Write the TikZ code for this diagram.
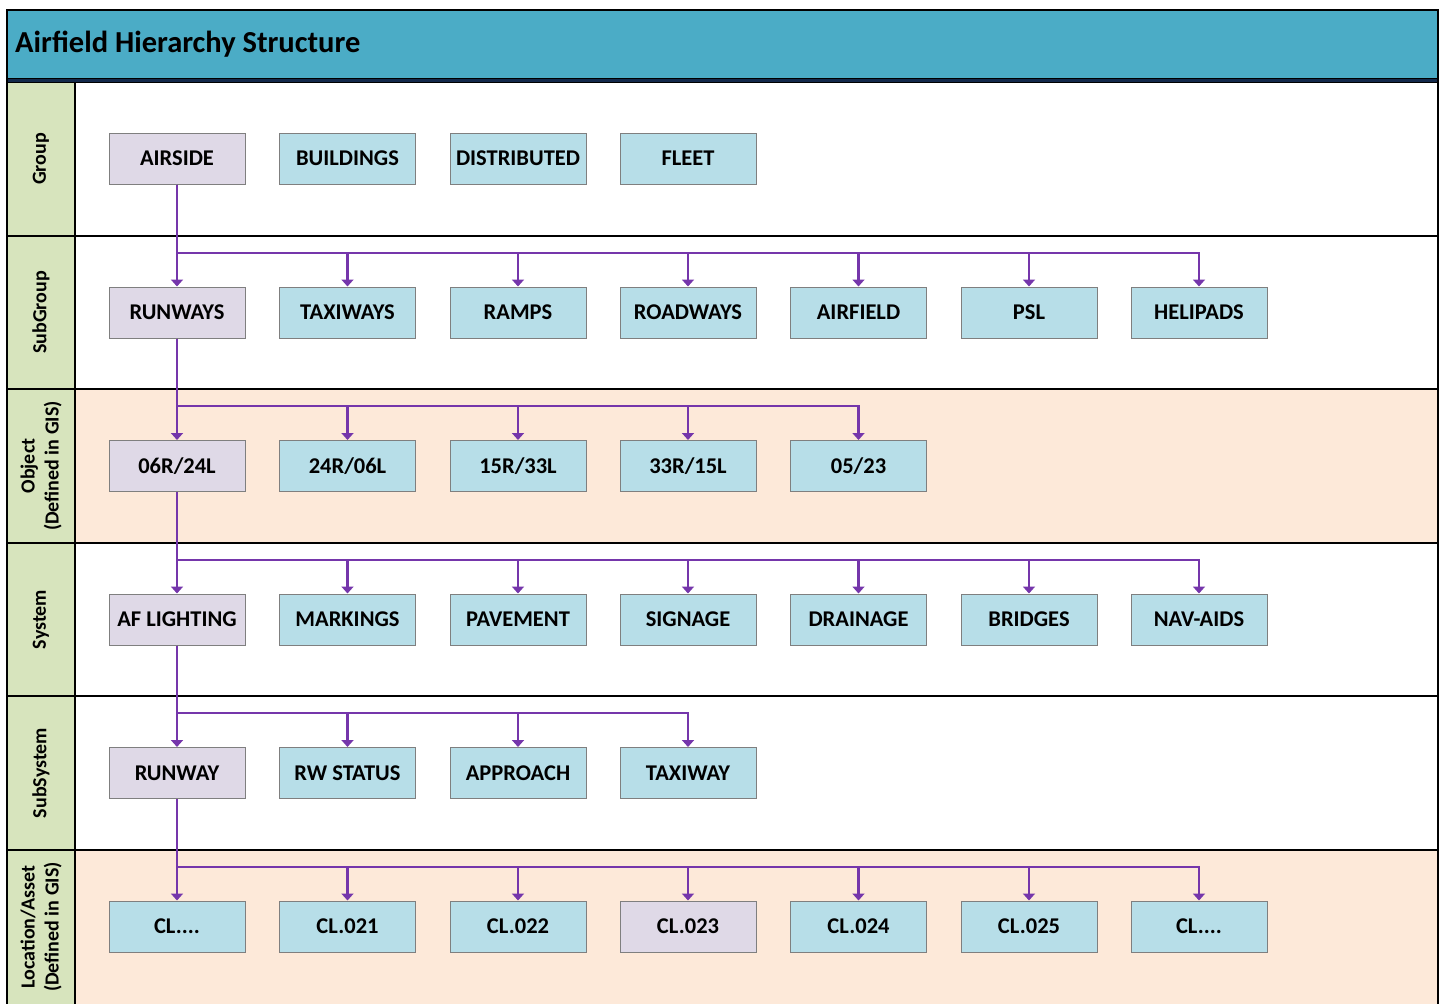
\documentclass[tikz,border=0pt]{standalone}
\usepackage{fontspec}
\setmainfont{Carlito}
\usetikzlibrary{arrows.meta}
\definecolor{titlebg}{HTML}{4BACC6}
\definecolor{labelbg}{HTML}{D7E4BD}
\definecolor{peach}{HTML}{FDE9D9}
\definecolor{lav}{HTML}{DFD9E7}
\definecolor{aqua}{HTML}{B7DEE8}
\definecolor{boxline}{HTML}{7F7F7F}
\definecolor{conncol}{HTML}{7536AB}
\definecolor{navy}{HTML}{13294B}
\tikzset{
  hbox/.style={draw=boxline, line width=1pt, minimum width=136pt, minimum height=51pt, inner sep=0pt,
    font=\bfseries\fontsize{22.5}{26}\selectfont},
  bluebox/.style={hbox, fill=aqua},
  lavbox/.style={hbox, fill=lav},
  conn/.style={draw=conncol, line width=2.3pt, -{Triangle[width=12pt,length=7pt]}},
  rowlab/.style={rotate=90, align=center, font=\bfseries\fontsize{20}{24}\selectfont},
  sep/.style={line width=2pt, black}
}
\begin{document}
\begin{tikzpicture}[x=1pt,y=-1pt]
\useasboundingbox (0,0) rectangle (1442,1004);
\fill[white] (0,0) rectangle (1442,1004);
% backgrounds
\fill[titlebg] (7,10) rectangle (1438,78);
\fill[labelbg] (7,82) rectangle (75,1004);
\fill[peach] (75,389) rectangle (1438,543);
\fill[peach] (75,850) rectangle (1438,1004);
% title
\node[anchor=west, inner sep=0pt, font=\bfseries\fontsize{30.5}{34}\selectfont] (title) at (15,44) {Airfield Hierarchy Structure};
% frame lines
\draw[line width=4pt, navy] (7,80) -- (1438,80);
\draw[line width=1pt, black] (7,78) -- (1438,78);
\draw[line width=1pt, black] (7,82.5) -- (1438,82.5);
\draw[sep] (7,10) -- (1438,10);
\draw[sep] (7,9) -- (7,1004);
\draw[sep] (1438,9) -- (1438,1004);
\draw[sep] (75,82) -- (75,1004);
\foreach \yy in {236,389,543,696,850} \draw[sep] (7,\yy) -- (1438,\yy);
% row labels
\node[rowlab] (l1) at (41,159) {Group};
\node[rowlab] (l2) at (41,312.5) {SubGroup};
\node[rowlab] (l3) at (41,466) {Object\\(Defined in GIS)};
\node[rowlab] (l4) at (41,619.5) {System};
\node[rowlab] (l5) at (41,773) {SubSystem};
\node[rowlab] (l6) at (41,927) {Location/Asset\\(Defined in GIS)};
% row 1
\node[lavbox]  (g1) at (177,158.5) {AIRSIDE};
\node[bluebox] (g2) at (347.5,158.5) {BUILDINGS};
\node[bluebox] (g3) at (518,158.5) {DISTRIBUTED};
\node[bluebox] (g4) at (688,158.5) {FLEET};
% row 2
\node[lavbox]  (s1) at (177,312.5) {RUNWAYS};
\node[bluebox] (s2) at (347.5,312.5) {TAXIWAYS};
\node[bluebox] (s3) at (518,312.5) {RAMPS};
\node[bluebox] (s4) at (688,312.5) {ROADWAYS};
\node[bluebox] (s5) at (858.5,312.5) {AIRFIELD};
\node[bluebox] (s6) at (1029,312.5) {PSL};
\node[bluebox] (s7) at (1199,312.5) {HELIPADS};
% row 3
\node[lavbox]  (o1) at (177,466) {06R/24L};
\node[bluebox] (o2) at (347.5,466) {24R/06L};
\node[bluebox] (o3) at (518,466) {15R/33L};
\node[bluebox] (o4) at (688,466) {33R/15L};
\node[bluebox] (o5) at (858.5,466) {05/23};
% row 4
\node[lavbox]  (y1) at (177,619.5) {AF LIGHTING};
\node[bluebox] (y2) at (347.5,619.5) {MARKINGS};
\node[bluebox] (y3) at (518,619.5) {PAVEMENT};
\node[bluebox] (y4) at (688,619.5) {SIGNAGE};
\node[bluebox] (y5) at (858.5,619.5) {DRAINAGE};
\node[bluebox] (y6) at (1029,619.5) {BRIDGES};
\node[bluebox] (y7) at (1199,619.5) {NAV-AIDS};
% row 5
\node[lavbox]  (u1) at (177,773) {RUNWAY};
\node[bluebox] (u2) at (347.5,773) {RW STATUS};
\node[bluebox] (u3) at (518,773) {APPROACH};
\node[bluebox] (u4) at (688,773) {TAXIWAY};
% row 6
\node[bluebox] (c1) at (177,926.5) {CL....};
\node[bluebox] (c2) at (347.5,926.5) {CL.021};
\node[bluebox] (c3) at (518,926.5) {CL.022};
\node[lavbox]  (c4) at (688,926.5) {CL.023};
\node[bluebox] (c5) at (858.5,926.5) {CL.024};
\node[bluebox] (c6) at (1029,926.5) {CL.025};
\node[bluebox] (c7) at (1199,926.5) {CL....};
% bus coordinates
\coordinate (b2) at (0,253);
\coordinate (b3) at (0,406);
\coordinate (b4) at (0,560);
\coordinate (b5) at (0,713);
\coordinate (b6) at (0,867);
% connectors
\draw[conn] (g1.south) -- (s1.north);
\foreach \c in {s2,s3,s4,s5,s6,s7} \draw[conn] (g1.south) -- (g1.south |- b2) -| (\c.north);
\draw[conn] (s1.south) -- (o1.north);
\foreach \c in {o2,o3,o4,o5} \draw[conn] (s1.south) -- (s1.south |- b3) -| (\c.north);
\draw[conn] (o1.south) -- (y1.north);
\foreach \c in {y2,y3,y4,y5,y6,y7} \draw[conn] (o1.south) -- (o1.south |- b4) -| (\c.north);
\draw[conn] (y1.south) -- (u1.north);
\foreach \c in {u2,u3,u4} \draw[conn] (y1.south) -- (y1.south |- b5) -| (\c.north);
\draw[conn] (u1.south) -- (c1.north);
\foreach \c in {c2,c3,c4,c5,c6,c7} \draw[conn] (u1.south) -- (u1.south |- b6) -| (\c.north);
\end{tikzpicture}
\end{document}
